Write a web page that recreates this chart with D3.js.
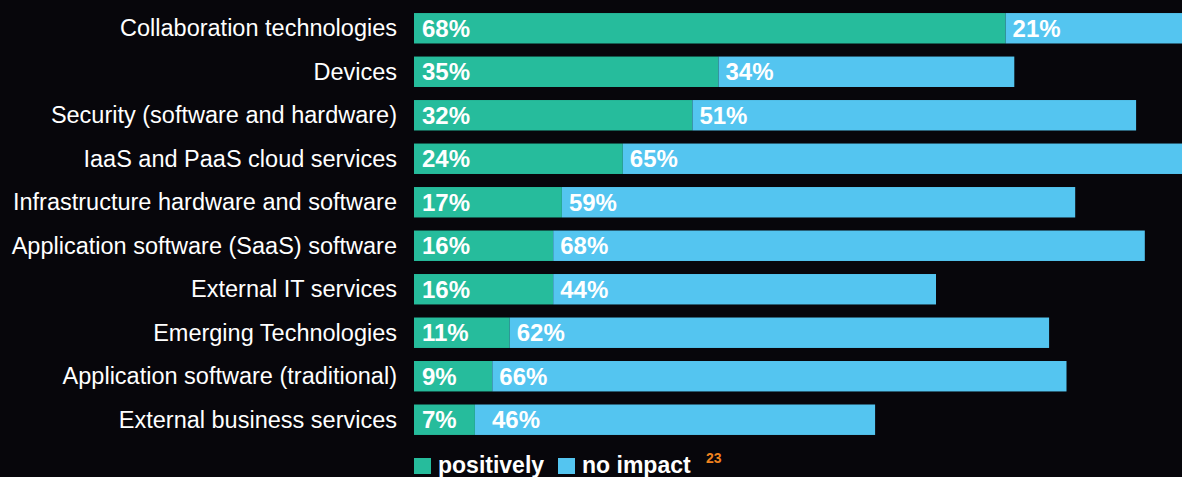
<!DOCTYPE html>
<html lang="en">
<head>
    <meta charset="UTF-8">
    <title>Technology impact</title>
    <script src="https://d3js.org/d3.v7.min.js"></script>
    <style>
        html, body { margin: 0; padding: 0; background: #07060b; }
        svg { display: block; font-family: "Liberation Sans", Arial, Helvetica, sans-serif; }
    </style>
</head>
<body>
<script>
    const width  = 1182;
    const height = 477;

    const categories = [
        "Collaboration technologies",
        "Devices",
        "Security (software and hardware)",
        "IaaS and PaaS cloud services",
        "Infrastructure hardware and software",
        "Application software (SaaS) software",
        "External IT services",
        "Emerging Technologies",
        "Application software (traditional)",
        "External business services"
    ];
    const positively = [68, 35, 32, 24, 17, 16, 16, 11, 9, 7];
    const noImpact   = [21, 34, 51, 65, 59, 68, 44, 62, 66, 46];
    const seriesNames = ["positively", "no impact"];
    const footnote = "23";

    const green = "#26bc9c";
    const blue  = "#54c5f0";

    const x = d3.scaleLinear().domain([0, 100]).range([414, 1284]);
    const y = d3.scaleBand().domain(categories).range([0, 448]).padding(0.3);

    const svg = d3.select("body")
            .append("svg")
            .attr("width", width)
            .attr("height", height);

    const rows = svg.selectAll("g.row")
            .data(categories)
            .enter()
            .append("g")
            .attr("class", "row")
            .attr("transform", d => "translate(0," + y(d) + ")");

    const bh = y.bandwidth();

    rows.append("text")
        .attr("x", 397)
        .attr("y", bh / 2)
        .attr("dy", "0.35em")
        .attr("text-anchor", "end")
        .attr("fill", "#fff")
        .style("font-size", "23.5px")
        .text(d => d);

    rows.append("rect")
        .attr("x", x(0))
        .attr("y", 0)
        .attr("width", (d, i) => x(positively[i]) - x(0))
        .attr("height", bh)
        .attr("fill", green);

    rows.append("rect")
        .attr("x", (d, i) => x(positively[i]))
        .attr("y", 0)
        .attr("width", (d, i) => x(positively[i] + noImpact[i]) - x(positively[i]))
        .attr("height", bh)
        .attr("fill", blue);

    rows.append("text")
        .attr("x", x(0) + 8)
        .attr("y", bh / 2)
        .attr("dy", "0.36em")
        .attr("fill", "#fff")
        .style("font-size", "24px")
        .style("font-weight", "bold")
        .text((d, i) => positively[i] + "%");

    // second label never sits closer than the width of the first one
    rows.append("text")
        .attr("x", (d, i) => Math.max(x(positively[i]) + 7, x(0) + 78))
        .attr("y", bh / 2)
        .attr("dy", "0.36em")
        .attr("fill", "#fff")
        .style("font-size", "24px")
        .style("font-weight", "bold")
        .text((d, i) => noImpact[i] + "%");

    // legend (cut by the bottom edge, as in the source)
    const legend = svg.append("g").attr("transform", "translate(414,458)");
    const legendX = [0, 144];
    const colors = [green, blue];

    seriesNames.forEach((name, i) => {
        legend.append("rect")
            .attr("x", legendX[i])
            .attr("y", 0)
            .attr("width", 17)
            .attr("height", 16)
            .attr("fill", colors[i]);
        legend.append("text")
            .attr("x", legendX[i] + 24)
            .attr("y", 15)
            .attr("fill", "#fff")
            .style("font-size", "23px")
            .style("font-weight", "bold")
            .text(name);
    });

    legend.append("text")
        .attr("x", 292)
        .attr("y", 5)
        .attr("fill", "#f0821e")
        .style("font-size", "14px")
        .style("font-weight", "bold")
        .text(footnote);
</script>
</body>
</html>
